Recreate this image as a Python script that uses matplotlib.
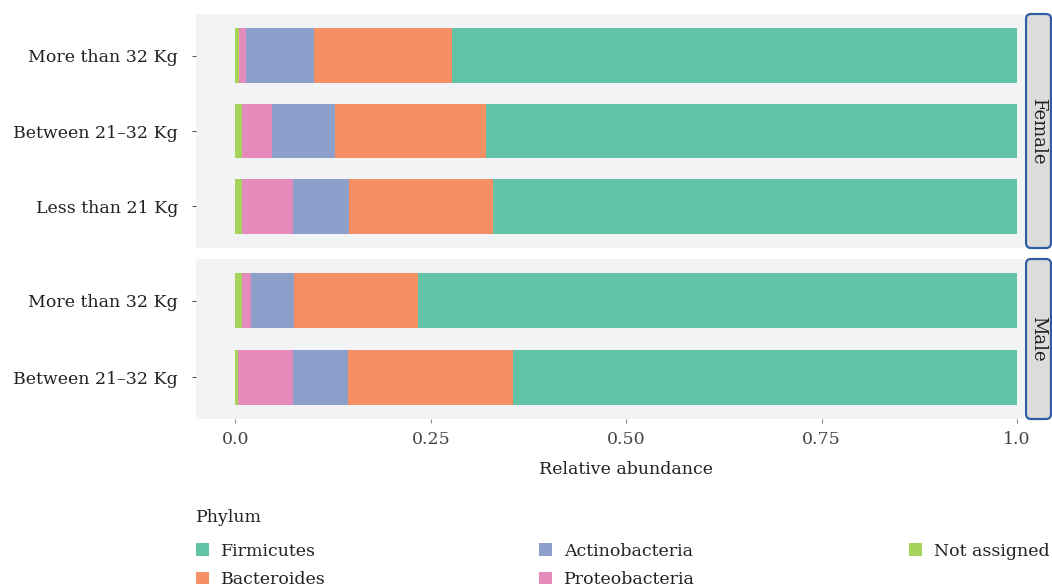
import matplotlib
matplotlib.use("Agg")
import matplotlib.pyplot as plt
from matplotlib.patches import Patch, FancyBboxPatch

# data
phyla = ["Not assigned", "Proteobacteria", "Actinobacteria", "Bacteroides", "Firmicutes"]
phylum_colors = {
    "Firmicutes": "#62C3A6",
    "Bacteroides": "#F78F65",
    "Actinobacteria": "#8DA0CB",
    "Proteobacteria": "#E58BBB",
    "Not assigned": "#A6D35A",
}
legend_order = ["Firmicutes", "Bacteroides", "Actinobacteria", "Proteobacteria", "Not assigned"]

female_groups = ["Less than 21 Kg", "Between 21\u201332 Kg", "More than 32 Kg"]
female_values = {
    "Not assigned":   [0.009, 0.008, 0.004],
    "Proteobacteria": [0.065, 0.039, 0.010],
    "Actinobacteria": [0.071, 0.080, 0.087],
    "Bacteroides":    [0.184, 0.193, 0.176],
    "Firmicutes":     [0.671, 0.680, 0.723],
}

male_groups = ["Between 21\u201332 Kg", "More than 32 Kg"]
male_values = {
    "Not assigned":   [0.003, 0.008],
    "Proteobacteria": [0.071, 0.012],
    "Actinobacteria": [0.070, 0.055],
    "Bacteroides":    [0.211, 0.159],
    "Firmicutes":     [0.645, 0.766],
}

plt.rcParams["font.family"] = ["DejaVu Serif"]
text_col = "#222222"
fs = 12.5

W, H = 1052, 587
fig = plt.figure(figsize=(W / 100, H / 100), dpi=100)


def px_axes(x0, y0, x1, y1):
    return fig.add_axes([x0 / W, 1 - y1 / H, (x1 - x0) / W, (y1 - y0) / H])


def draw_panel(ax, groups, values, label, strip_y0, strip_y1, show_x):
    ax.set_facecolor("#F2F3F5")
    for s in ax.spines.values():
        s.set_visible(False)
    y = list(range(len(groups)))
    left = [0.0] * len(groups)
    for ph in phyla:
        v = values[ph]
        ax.barh(y, v, left=left, height=0.72, color=phylum_colors[ph], linewidth=0)
        left = [a + b for a, b in zip(left, v)]
    ax.set_xlim(-0.0505, 1.009)
    ax.set_ylim(-0.55, len(groups) - 0.45)
    ax.set_yticks(y)
    ax.set_yticklabels(groups, fontsize=fs, color=text_col)
    ax.tick_params(axis="y", length=3, color="#555555", pad=10)
    ax.set_xticks([0, 0.25, 0.5, 0.75, 1.0])
    if show_x:
        ax.set_xticklabels(["0.0", "0.25", "0.50", "0.75", "1.0"], fontsize=fs, color="#444444")
        ax.tick_params(axis="x", length=3, color="#888888", pad=6)
    else:
        ax.tick_params(axis="x", length=0, labelbottom=False)

    # facet strip on the right
    sx0, sx1 = 1026, 1051
    box = FancyBboxPatch(
        (sx0 / 100, (H - strip_y1) / 100),
        (sx1 - sx0) / 100, (strip_y1 - strip_y0) / 100,
        boxstyle="round,pad=0,rounding_size=0.05",
        transform=fig.dpi_scale_trans,
        facecolor="#DCDCDC", edgecolor="#2F5DA3", linewidth=1.6,
    )
    fig.patches.append(box)
    fig.text((sx0 + sx1) / 2 / W, 1 - (strip_y0 + strip_y1) / 2 / H, label,
             rotation=270, ha="center", va="center", fontsize=13, color=text_col)


ax_f = px_axes(196, 14, 1024, 248)
draw_panel(ax_f, female_groups, female_values, "Female", 14, 248, False)
ax_m = px_axes(196, 259, 1024, 419)
draw_panel(ax_m, male_groups, male_values, "Male", 259, 419, True)

fig.text(626 / W, 1 - 470 / H, "Relative abundance", ha="center", va="center",
         fontsize=fs, color=text_col)

fig.text(196 / W, 1 - 517 / H, "Phylum", ha="left", va="center",
         fontsize=fs, color=text_col)

handles = [Patch(facecolor=phylum_colors[p], edgecolor="none", label=p) for p in legend_order]
leg = fig.legend(handles=handles, ncol=3, loc="upper left",
                 bbox_to_anchor=(187 / W, 1 - 534 / H), frameon=False,
                 fontsize=fs, handlelength=0.75, handleheight=0.75,
                 handletextpad=0.7, columnspacing=12.3, labelspacing=0.65,
                 borderpad=0)
for t in leg.get_texts():
    t.set_color(text_col)

fig.savefig("out.png", dpi=100)
